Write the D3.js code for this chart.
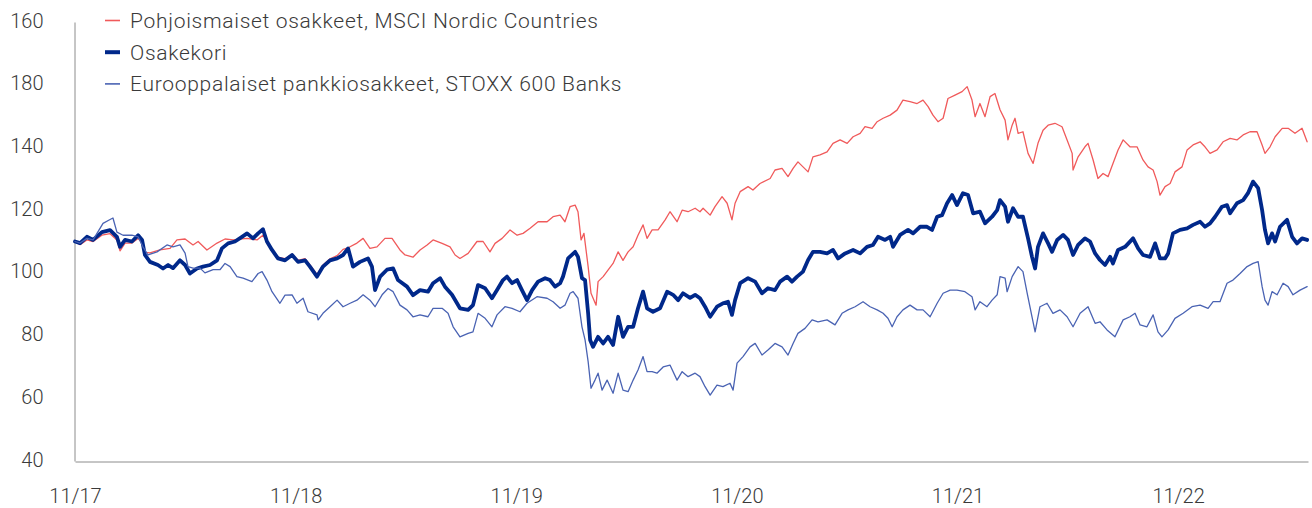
<!DOCTYPE html>
<html>
<head>
<meta charset="utf-8">
<script src="https://cdn.jsdelivr.net/npm/d3@7"></script>
<style>
  html, body { margin: 0; padding: 0; background: #fff; }
  svg { display: block; }
  text { font-family: Roboto, "Noto Sans", sans-serif; font-weight: 300; fill: #3a3a3a; }
</style>
</head>
<body>
<svg id="chart" width="1312" height="508"></svg>
<script>
// ---- Data (time as decimal year, values as index points) ----
const seriesNames = [
  "Pohjoismaiset osakkeet, MSCI Nordic Countries",
  "Osakekori",
  "Eurooppalaiset pankkiosakkeet, STOXX 600 Banks"
];

const nordic = [[2017.833,110],[2017.856,109],[2017.887,110.5],[2017.915,110],[2017.955,112],[2017.992,112.5],[2018.023,110.5],[2018.037,107],[2018.060,109.5],[2018.091,109.5],[2018.119,111],[2018.137,109.5],[2018.150,106.5],[2018.173,106.4],[2018.218,107.3],[2018.264,107.8],[2018.295,110.5],[2018.332,110.8],[2018.368,108.9],[2018.391,110],[2018.431,107.3],[2018.477,109.5],[2018.513,110.8],[2018.549,110.5],[2018.613,111],[2018.658,110.5],[2018.685,112],[2018.703,110],[2018.726,107.5],[2018.753,105],[2018.785,104.5],[2018.817,106],[2018.844,104],[2018.876,104.5],[2018.898,102.5],[2018.930,99.5],[2018.957,102.5],[2018.989,104.5],[2019.021,105.5],[2019.048,107.5],[2019.071,108],[2019.111,109.5],[2019.139,111],[2019.170,107.8],[2019.202,108.3],[2019.238,111],[2019.270,111],[2019.306,107.3],[2019.329,105.7],[2019.365,105],[2019.397,107.3],[2019.429,108.9],[2019.456,110.5],[2019.497,109.4],[2019.533,108.3],[2019.556,105.7],[2019.578,104.6],[2019.615,106.2],[2019.655,110],[2019.683,110],[2019.714,106.7],[2019.737,109.4],[2019.769,111],[2019.805,113.7],[2019.837,112],[2019.864,112.6],[2019.896,114.2],[2019.932,116.3],[2019.973,116.3],[2020.000,117.9],[2020.032,118.4],[2020.054,116.3],[2020.077,121.1],[2020.100,121.6],[2020.113,119.5],[2020.127,110.5],[2020.140,112.6],[2020.159,102],[2020.172,93.5],[2020.195,89.7],[2020.204,97.2],[2020.227,98.8],[2020.249,100.9],[2020.272,103],[2020.295,106.7],[2020.317,104],[2020.340,106.7],[2020.363,108.3],[2020.385,112],[2020.408,115.3],[2020.426,111],[2020.449,113.7],[2020.476,113.7],[2020.508,116.9],[2020.530,119.5],[2020.562,116.3],[2020.585,120],[2020.612,119.5],[2020.644,120.6],[2020.666,119.5],[2020.680,120.6],[2020.712,118.4],[2020.734,121.1],[2020.766,124.3],[2020.789,122.2],[2020.811,116.9],[2020.825,122.2],[2020.848,125.9],[2020.884,127.5],[2020.906,126.4],[2020.938,128.5],[2020.984,130.1],[2021.006,132.8],[2021.038,133.3],[2021.065,130.7],[2021.088,133.3],[2021.110,135.4],[2021.133,133.8],[2021.156,132.2],[2021.178,137],[2021.210,137.6],[2021.242,138.6],[2021.269,141.3],[2021.301,142.4],[2021.333,141.3],[2021.360,143.4],[2021.392,144.5],[2021.414,146.6],[2021.446,146.1],[2021.469,148.2],[2021.496,149.3],[2021.528,150.3],[2021.559,151.9],[2021.586,155.1],[2021.618,154.6],[2021.650,154],[2021.677,155.1],[2021.700,153],[2021.722,150.3],[2021.745,148.2],[2021.768,149.3],[2021.790,155.6],[2021.822,156.7],[2021.854,157.8],[2021.877,159.4],[2021.899,155.1],[2021.913,149.8],[2021.935,154],[2021.958,149.8],[2021.981,156.2],[2022.003,157.2],[2022.026,152],[2022.049,148.7],[2022.062,142.4],[2022.081,147.1],[2022.094,149.3],[2022.108,144.5],[2022.130,145],[2022.153,138.1],[2022.176,134.9],[2022.198,141.3],[2022.221,145.5],[2022.244,147.1],[2022.275,147.7],[2022.307,146.6],[2022.330,142.4],[2022.353,138.1],[2022.357,132.8],[2022.380,137],[2022.411,140.2],[2022.425,141.3],[2022.448,136],[2022.470,130.1],[2022.493,131.7],[2022.516,130.7],[2022.538,134.9],[2022.561,139.2],[2022.584,142.4],[2022.615,140.2],[2022.647,140.2],[2022.674,136],[2022.697,133.8],[2022.720,132.8],[2022.738,129.1],[2022.751,124.8],[2022.774,127.5],[2022.797,128.5],[2022.819,132.2],[2022.851,133.8],[2022.874,139.2],[2022.901,140.8],[2022.933,141.8],[2022.955,140.2],[2022.978,138.1],[2023.010,139.2],[2023.037,141.8],[2023.069,142.9],[2023.100,142.4],[2023.128,144],[2023.159,145],[2023.191,145],[2023.214,140.8],[2023.227,138.1],[2023.250,140.2],[2023.273,143.4],[2023.305,146.1],[2023.332,146.1],[2023.363,144.5],[2023.395,146.1],[2023.418,141.8]];

const osakekori = [[2017.833,110],[2017.856,109.5],[2017.887,111.5],[2017.915,110.5],[2017.955,113],[2017.992,113.6],[2018.023,111.5],[2018.037,108.3],[2018.060,110.5],[2018.091,110],[2018.119,112],[2018.137,110.5],[2018.150,105.7],[2018.173,103.5],[2018.209,102.5],[2018.232,101.4],[2018.255,102.5],[2018.277,101.5],[2018.309,104],[2018.332,102.5],[2018.354,99.8],[2018.386,101.4],[2018.413,102],[2018.445,102.5],[2018.477,104],[2018.499,107.8],[2018.527,109.4],[2018.558,110],[2018.590,111.5],[2018.613,112.6],[2018.640,111],[2018.663,112.6],[2018.685,113.9],[2018.703,110],[2018.726,107.3],[2018.753,104.6],[2018.785,104],[2018.817,105.7],[2018.844,103.5],[2018.876,104],[2018.898,102],[2018.930,98.8],[2018.957,102],[2018.989,104],[2019.021,104.6],[2019.048,105.7],[2019.071,107.8],[2019.093,102],[2019.125,103.5],[2019.161,104.6],[2019.179,102],[2019.193,94.5],[2019.216,98.8],[2019.247,101],[2019.275,101.4],[2019.297,97.7],[2019.338,95.6],[2019.365,92.9],[2019.397,94.5],[2019.433,94],[2019.456,96.7],[2019.488,98.3],[2019.510,95.6],[2019.542,93],[2019.578,88.7],[2019.615,88.2],[2019.637,89.7],[2019.660,96.1],[2019.692,95.1],[2019.723,91.9],[2019.746,94.5],[2019.773,97.7],[2019.791,98.8],[2019.814,96.7],[2019.837,97.7],[2019.859,94.5],[2019.882,91.3],[2019.905,94.5],[2019.932,97.2],[2019.964,98.3],[2019.986,97.7],[2020.009,95.6],[2020.032,96.7],[2020.045,98.8],[2020.068,104.6],[2020.100,106.7],[2020.113,105.1],[2020.131,98.3],[2020.145,97.7],[2020.159,87.1],[2020.168,78.6],[2020.181,76.4],[2020.204,79.6],[2020.227,77.5],[2020.249,79.6],[2020.272,77],[2020.295,86],[2020.317,79.6],[2020.340,82.8],[2020.363,82.8],[2020.385,88.7],[2020.408,94],[2020.426,88.7],[2020.453,87.6],[2020.485,88.7],[2020.517,94],[2020.544,93],[2020.567,91.3],[2020.589,93.5],[2020.621,92],[2020.644,93],[2020.666,91.9],[2020.689,89.2],[2020.712,86],[2020.743,89.2],[2020.770,90.3],[2020.793,90.8],[2020.811,86.6],[2020.825,91.3],[2020.848,96.7],[2020.884,98.3],[2020.916,97.2],[2020.947,93.5],[2020.974,95.1],[2021.006,94.5],[2021.029,97.2],[2021.061,98.8],[2021.083,97.2],[2021.106,98.8],[2021.133,100.4],[2021.156,104.1],[2021.178,106.7],[2021.210,106.7],[2021.242,106.2],[2021.269,107.3],[2021.292,104.6],[2021.324,106.2],[2021.360,107.3],[2021.392,106.2],[2021.423,108.3],[2021.450,108.9],[2021.473,111.5],[2021.505,110.5],[2021.528,111.5],[2021.541,108.3],[2021.573,112.1],[2021.609,113.7],[2021.632,112.6],[2021.664,114.7],[2021.695,114.7],[2021.718,113.7],[2021.741,117.9],[2021.763,118.4],[2021.786,122.2],[2021.809,124.8],[2021.831,121.6],[2021.858,125.4],[2021.881,124.8],[2021.904,119],[2021.935,119.5],[2021.958,115.8],[2021.990,117.9],[2022.013,120],[2022.026,123.2],[2022.049,121.1],[2022.062,116.3],[2022.085,120.6],[2022.108,117.9],[2022.130,117.9],[2022.153,111],[2022.171,105.1],[2022.185,101.4],[2022.198,108.3],[2022.221,112.6],[2022.244,109.4],[2022.262,106.7],[2022.285,110.5],[2022.312,112.1],[2022.334,110.5],[2022.357,105.7],[2022.380,108.9],[2022.411,111],[2022.434,110],[2022.457,106.2],[2022.479,104.1],[2022.502,102.5],[2022.525,105.1],[2022.538,103],[2022.561,107.3],[2022.593,108.3],[2022.629,111],[2022.652,107.8],[2022.674,105.7],[2022.706,105.1],[2022.729,109.4],[2022.751,104.6],[2022.774,104.6],[2022.788,106.2],[2022.810,112.6],[2022.842,113.7],[2022.874,114.2],[2022.901,115.3],[2022.933,116.3],[2022.955,114.7],[2022.978,115.8],[2023.001,117.9],[2023.032,121.1],[2023.055,121.6],[2023.069,119],[2023.100,122.2],[2023.128,123.2],[2023.150,125.4],[2023.173,129.1],[2023.196,127],[2023.214,120],[2023.227,113.7],[2023.241,109.4],[2023.259,112.6],[2023.273,110],[2023.295,114.7],[2023.327,116.9],[2023.350,111.5],[2023.372,109.4],[2023.395,111],[2023.418,110.5]];

const banks = [[2017.833,110],[2017.856,109.5],[2017.887,111],[2017.915,110.5],[2017.960,115.8],[2017.992,117],[2018.005,117.5],[2018.023,113],[2018.051,112],[2018.091,112],[2018.119,111.5],[2018.141,108.3],[2018.164,105.7],[2018.205,106.7],[2018.250,108.9],[2018.277,108.3],[2018.309,108.9],[2018.332,106.3],[2018.345,102],[2018.368,101.5],[2018.400,101.5],[2018.422,100],[2018.459,101],[2018.490,101],[2018.513,103],[2018.536,102],[2018.567,98.8],[2018.595,98.3],[2018.635,97.2],[2018.663,99.8],[2018.681,100.4],[2018.703,97.7],[2018.726,94],[2018.762,90.3],[2018.785,92.9],[2018.817,93],[2018.839,90.3],[2018.867,91.9],[2018.889,87.6],[2018.930,86.6],[2018.935,85],[2018.957,87.1],[2018.989,89.2],[2019.021,91.3],[2019.048,89.2],[2019.080,90.3],[2019.111,91.3],[2019.139,93],[2019.170,91.3],[2019.193,89.2],[2019.225,93],[2019.252,95],[2019.275,94],[2019.306,89.7],[2019.338,88.2],[2019.365,86],[2019.397,86.6],[2019.433,86],[2019.456,88.7],[2019.497,88.7],[2019.524,87.1],[2019.547,82.8],[2019.578,79.6],[2019.615,80.7],[2019.637,81.2],[2019.660,87.1],[2019.692,85.5],[2019.723,82.8],[2019.746,86.6],[2019.782,89.2],[2019.814,88.7],[2019.850,87.6],[2019.882,90.3],[2019.927,92.4],[2019.973,91.9],[2020.000,90.8],[2020.032,88.7],[2020.054,89.7],[2020.077,93.5],[2020.091,94],[2020.113,91.9],[2020.131,82.8],[2020.145,78.6],[2020.159,71.7],[2020.172,63.2],[2020.190,65.8],[2020.204,68],[2020.222,62.6],[2020.245,65.8],[2020.272,61.6],[2020.295,68],[2020.317,62.6],[2020.340,62.1],[2020.363,65.8],[2020.385,69],[2020.408,73.3],[2020.426,68.5],[2020.449,68.5],[2020.471,68],[2020.499,70],[2020.530,70.6],[2020.562,65.8],[2020.585,68.5],[2020.612,66.9],[2020.644,68],[2020.666,66.9],[2020.689,63.7],[2020.712,61],[2020.743,64.2],[2020.770,63.7],[2020.802,64.8],[2020.816,62.6],[2020.834,71.2],[2020.861,73.3],[2020.893,76.4],[2020.916,77.5],[2020.947,73.8],[2020.974,75.4],[2021.006,77.5],[2021.038,76.4],[2021.065,73.8],[2021.088,77.5],[2021.110,80.7],[2021.142,82.3],[2021.174,85],[2021.201,84.4],[2021.242,85],[2021.278,83.4],[2021.310,87.1],[2021.337,88.2],[2021.369,89.2],[2021.405,90.8],[2021.437,89.2],[2021.469,88.2],[2021.496,87.1],[2021.518,85.5],[2021.537,82.8],[2021.559,86],[2021.586,88.2],[2021.618,89.7],[2021.650,88.2],[2021.677,88.2],[2021.709,86],[2021.741,90.3],[2021.768,93.5],[2021.800,94.5],[2021.831,94.5],[2021.867,94],[2021.899,92.4],[2021.913,88.2],[2021.935,90.8],[2021.967,89.2],[2021.990,91.3],[2022.013,93],[2022.026,98.8],[2022.049,98.3],[2022.058,94],[2022.081,98.8],[2022.108,102],[2022.130,100.4],[2022.149,93.5],[2022.171,86],[2022.185,81.2],[2022.207,89.2],[2022.239,90.3],[2022.266,87.1],[2022.298,88.2],[2022.330,86],[2022.357,82.8],[2022.389,87.1],[2022.425,89.2],[2022.457,83.9],[2022.479,84.4],[2022.511,81.8],[2022.547,79.6],[2022.584,85],[2022.615,86],[2022.638,87.1],[2022.661,83.4],[2022.692,82.8],[2022.720,86.6],[2022.742,81.2],[2022.760,79.6],[2022.788,81.8],[2022.819,85.5],[2022.856,87.1],[2022.896,89.2],[2022.933,89.7],[2022.969,88.7],[2022.992,90.8],[2023.023,90.8],[2023.055,96.7],[2023.082,97.7],[2023.114,99.8],[2023.146,102],[2023.173,103],[2023.196,103.6],[2023.214,95.6],[2023.227,91.3],[2023.241,89.7],[2023.259,94],[2023.282,93],[2023.309,96.7],[2023.332,95.6],[2023.354,93],[2023.386,94.5],[2023.418,95.6]];

const xTickValues = [2017.833, 2018.833, 2019.833, 2020.833, 2021.833, 2022.833];
const xTickLabels = ["11/17", "11/18", "11/19", "11/20", "11/21", "11/22"];
const yTickValues = [40, 60, 80, 100, 120, 140, 160, 180];
const yTickLabels = ["40", "60", "80", "100", "120", "140", "180", "160"];
const xDomain = [2017.833, 2023.422];
const yDomain = [40, 180];

// ---- Layout ----
const svg = d3.select("#chart");
const mLeft = 75, mRight = 1308, mTop = 22, mBottom = 461;

const x = d3.scaleLinear().domain(xDomain).range([mLeft, mRight]);
const y = d3.scaleLinear().domain(yDomain).range([mBottom, mTop]);

// axes
const yAxis = d3.axisLeft(y).tickValues(yTickValues)
  .tickFormat((d, i) => yTickLabels[i]).tickSize(0).tickSizeOuter(0).tickPadding(31);
const gy = svg.append("g").attr("transform", `translate(${mLeft - 0.5},0)`).call(yAxis);
gy.select(".domain").attr("stroke", "#8c8c8c").attr("stroke-width", 1);
gy.selectAll("text").attr("font-size", 20).attr("font-family", "Roboto")
  .attr("font-weight", 300).attr("fill", "#3a3a3a").attr("dy", "0.3em")
  .attr("transform", "translate(0,-1)");

const xAxis = d3.axisBottom(x).tickValues(xTickValues)
  .tickFormat((d, i) => xTickLabels[i]).tickSize(0).tickSizeOuter(0).tickPadding(27);
const gx = svg.append("g").attr("transform", `translate(0,${mBottom + 0.5})`).call(xAxis);
gx.select(".domain").attr("stroke", "#8c8c8c").attr("stroke-width", 1);
gx.selectAll("text").attr("font-size", 20).attr("font-family", "Roboto")
  .attr("font-weight", 300).attr("fill", "#3a3a3a");

// lines
const line = d3.line().x(d => x(d[0])).y(d => y(d[1])).curve(d3.curveLinear);
const styles = [
  { data: nordic, color: "#f05a5b", width: 1.3 },
  { data: osakekori, color: "#00288a", width: 3.8 },
  { data: banks, color: "#4a63b3", width: 1.3 }
];
svg.append("g").selectAll("path").data(styles).join("path")
  .attr("d", s => line(s.data))
  .attr("fill", "none")
  .attr("stroke", s => s.color)
  .attr("stroke-width", s => s.width)
  .attr("stroke-linejoin", "round")
  .attr("stroke-linecap", "round");

// legend
const legend = svg.append("g").attr("transform", "translate(105,0)");
const legRows = legend.selectAll("g").data(styles.map((s, i) => ({ ...s, name: seriesNames[i], i })))
  .join("g").attr("transform", d => `translate(0,${20.5 + d.i * 31.7})`);
legRows.append("line").attr("x1", 0).attr("x2", 15).attr("y1", 0).attr("y2", 0)
  .attr("stroke", d => d.color).attr("stroke-width", d => d.i === 1 ? 4 : 1.6);
legRows.append("text").attr("x", 25).attr("y", 0).attr("dy", "0.35em")
  .attr("font-size", 21).attr("letter-spacing", 0.7).text(d => d.name);
</script>
</body>
</html>
